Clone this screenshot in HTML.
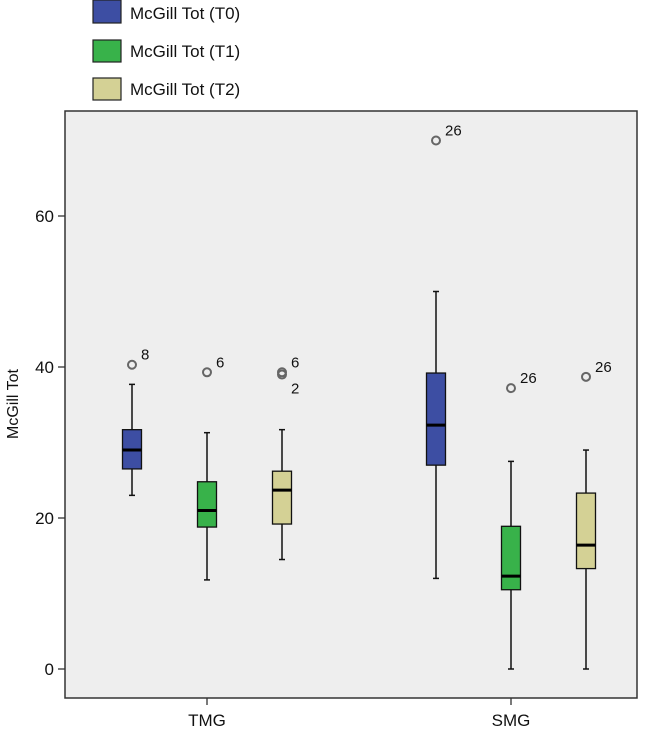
<!DOCTYPE html>
<html><head><meta charset="utf-8"><style>
html,body{margin:0;padding:0;background:#fff;}
svg text{font-family:"Liberation Sans",sans-serif;fill:#111;}
</style></head><body>
<svg id="chart" width="654" height="731">
<g>
  <rect x="93" y="0" width="28" height="23" fill="#3d4ea3" stroke="#222" stroke-width="1.2"/>
  <text x="130" y="19" font-size="17">McGill Tot (T0)</text>
  <rect x="93" y="40" width="28" height="22" fill="#38b24a" stroke="#222" stroke-width="1.2"/>
  <text x="130" y="57" font-size="17">McGill Tot (T1)</text>
  <rect x="93" y="78" width="28" height="22" fill="#d4d195" stroke="#222" stroke-width="1.2"/>
  <text x="130" y="95" font-size="17">McGill Tot (T2)</text>
</g>
<rect x="65" y="111" width="572" height="587" fill="#eeeeee" stroke="#333" stroke-width="1.5"/>
<text transform="translate(18,404) rotate(-90)" text-anchor="middle" font-size="16">McGill Tot</text>
<g id="yaxis"></g>
<g id="xaxis"></g>
<g id="marks"></g>
</svg>
<script>
const categories = ["TMG", "SMG"];
const seriesNames = ["T0", "T1", "T2"];
const yTicks = [0, 20, 40, 60];
const mins = [[23, 11.8, 14.5], [12, 0, 0]];
const q1s = [[26.5, 18.8, 19.2], [27, 10.5, 13.3]];
const medians = [[29, 21, 23.7], [32.3, 12.3, 16.4]];
const q3s = [[31.7, 24.8, 26.2], [39.2, 18.9, 23.3]];
const maxs = [[37.7, 31.3, 31.7], [50, 27.5, 29]];
const outlierValues = [[[40.3], [39.3], [39.3, 39.0]], [[70], [37.2], [38.7]]];
const outlierLabels = [[["8"], ["6"], ["6", "2"]], [["26"], ["26"], ["26"]]];

const colors = ["#3d4ea3", "#38b24a", "#d4d195"];
const NS = "http://www.w3.org/2000/svg";
function y(v){ return 669 - v * 7.55; }
function xc(ci){ return 207 + ci * 304; }
function xs(ci, si){ return xc(ci) + (si - 1) * 75; }
function mk(tag, attrs, parent){ const e = document.createElementNS(NS, tag); for (const k in attrs) e.setAttribute(k, attrs[k]); parent.appendChild(e); return e; }

const ya = document.getElementById("yaxis");
yTicks.forEach(t => {
  const l = mk("line", {x1: 58, x2: 65, y1: y(t), y2: y(t), stroke: "#333", "stroke-width": 1.3}, ya);
  
  
  const tx = mk("text", {x: 54, y: y(t) + 6, "text-anchor": "end", "font-size": 17}, ya);
  tx.textContent = t;
  
  
});
const xa = document.getElementById("xaxis");
categories.forEach((c, ci) => {
  const l = mk("line", {x1: xc(ci), x2: xc(ci), y1: 698, y2: 705, stroke: "#333", "stroke-width": 1.3}, xa);
  
  
  const tx = mk("text", {x: xc(ci), y: 726, "text-anchor": "middle", "font-size": 17}, xa);
  tx.textContent = c;
  
  
});
const mg = document.getElementById("marks");
categories.forEach((c, ci) => {
  seriesNames.forEach((s, si) => {
    const x = xs(ci, si), w = 19;
    const g = mk("g", {}, mg);
    
    
    mk("line", {x1: x, x2: x, y1: y(maxs[ci][si]), y2: y(q3s[ci][si]), stroke: "#111", "stroke-width": 1.5}, g);
    mk("line", {x1: x, x2: x, y1: y(q1s[ci][si]), y2: y(mins[ci][si]), stroke: "#111", "stroke-width": 1.5}, g);
    mk("line", {x1: x - 3, x2: x + 3, y1: y(maxs[ci][si]), y2: y(maxs[ci][si]), stroke: "#111", "stroke-width": 1.5}, g);
    mk("line", {x1: x - 3, x2: x + 3, y1: y(mins[ci][si]), y2: y(mins[ci][si]), stroke: "#111", "stroke-width": 1.5}, g);
    mk("rect", {x: x - w / 2, y: y(q3s[ci][si]), width: w, height: y(q1s[ci][si]) - y(q3s[ci][si]), fill: colors[si], stroke: "#111", "stroke-width": 1.3}, g);
    mk("line", {x1: x - w / 2, x2: x + w / 2, y1: y(medians[ci][si]), y2: y(medians[ci][si]), stroke: "#000", "stroke-width": 3}, g);
    outlierValues[ci][si].forEach((v, oi) => {
      const o = mk("circle", {cx: x, cy: y(v), r: 4, fill: "none", stroke: "#666", "stroke-width": 2}, g);
      
      
      const ly = oi === 0 ? y(v) - 5 : y(v) + 19;
      const t = mk("text", {x: x + 9, y: ly, "font-size": 15}, g);
      t.textContent = outlierLabels[ci][si][oi];
      
      
    });
  });
});
</script>
</body></html>
